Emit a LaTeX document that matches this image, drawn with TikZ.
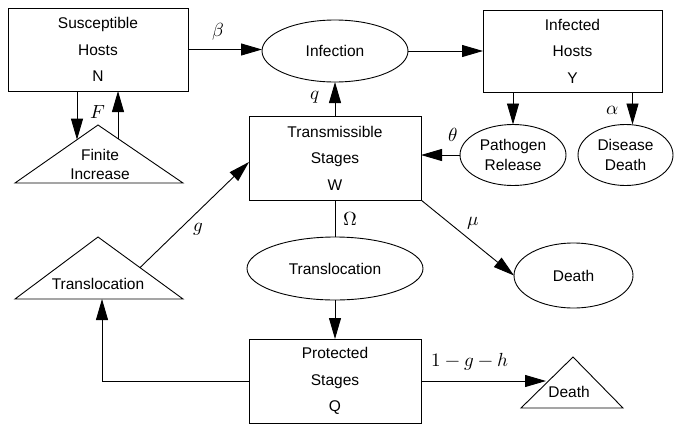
\documentclass[tikz,border=0pt]{standalone}
\usepackage{fontspec}
\usepackage{unicode-math}
\setmainfont{Liberation Sans}
\setmathfont{Latin Modern Math}
\usetikzlibrary{shapes.geometric,arrows.meta}
\begin{document}
\begin{tikzpicture}[x=1pt,y=-1pt,
  every node/.style={inner sep=0pt, outer sep=0pt},
  txt/.style={font=\fontsize{15.5}{26.5}\selectfont, align=center},
  box/.style={draw, line width=0.9pt, txt},
  oval/.style={draw, ellipse, line width=0.9pt, txt},
  tri/.style={draw, line width=0.9pt, line join=miter},
  lab/.style={font=\fontsize{19}{19}\selectfont},
  flow/.style={line width=0.9pt, -{Triangle[length=21pt,width=12pt]}},
  plain/.style={line width=0.9pt}]
\useasboundingbox (0,0) rectangle (674,426);

% boxes
\node[box, minimum width=180pt, minimum height=83pt] (S) at (98,49.5) {Susceptible\\Hosts\\N};
\node[box, minimum width=179pt, minimum height=82pt] (Y) at (572.5,51) {Infected\\Hosts\\Y};
\node[box, minimum width=172pt, minimum height=84pt] (W) at (335,158) {Transmissible\\Stages\\W};
\node[box, minimum width=172pt, minimum height=84pt] (Q) at (335,381) {Protected\\Stages\\Q};

% ellipses
\node[oval, minimum width=146pt, minimum height=62pt] (I) at (335,51) {Infection};
\node[oval, minimum width=106pt, minimum height=61pt, font=\fontsize{15.5}{20}\selectfont] (P) at (513,155) {Pathogen\\Release};
\node[oval, minimum width=95pt, minimum height=61pt, font=\fontsize{15.5}{20}\selectfont] (D) at (625.5,155) {Disease\\Death};
\node[oval, minimum width=176pt, minimum height=63pt] (T) at (335,268.5) {Translocation};
\node[oval, minimum width=119pt, minimum height=65pt] (E) at (573.5,275.5) {Death};

% triangles
\draw[tri] (15,183) -- (98,125) -- (183,183) -- cycle;
\node[txt, font=\fontsize{15.5}{19}\selectfont] (FI) at (100,164) {Finite\\Increase};
\draw[tri] (15,299) -- (98,237) -- (183,299) -- cycle;
\node[txt] (TR) at (98,284) {Translocation};
\draw[tri] (521,408) -- (573,357) -- (623,408) -- cycle;
\node[txt] (DT) at (569,392) {Death};

\coordinate (fiL) at (77,139.7);
\coordinate (fiR) at (118,138.6);
\coordinate (trR) at (140,267.6);
\coordinate (trB) at (102,299);
\coordinate (dtL) at (546,381);

% connectors
\draw[flow] (S.east) -- (S.east -| I.west);
\draw[flow] (I.east) -- (I.east -| Y.west);
\draw[flow] (W.north) -- (I.south);
\draw[flow] (P.north |- Y.south) -- (P.north);
\draw[flow] ([xshift=7pt]Y.south -| D.north) -- ([xshift=7pt]D.north);
\draw[flow] (P.west) -- (P.west -| W.east);
\draw[plain] (W.south) -- (T.north);
\draw[flow] (T.south) -- (Q.north);
\draw[flow] (W.south east) -- (E.west);
\draw[flow] (Q.east) -- (dtL);
\draw[flow] (Q.west) -| (trB);
\draw[flow] (trR) -- ([yshift=-4pt]W.west);
\draw[flow] (S.south -| fiL) -- (fiL);
\draw[flow] (fiR) -- (fiR |- S.south);

% labels
\node[lab] (lb) at (218,32) {$\beta$};
\node[lab] (lq) at (315,97) {$q$};
\node[lab] (lF) at (98,112) {$F$};
\node[lab] (lth) at (453,135) {$\theta$};
\node[lab] (la) at (613,110) {$\alpha$};
\node[lab] (lg) at (198,229) {$g$};
\node[lab] (lO) at (350,219) {$\Omega$};
\node[lab] (lm) at (473,223) {$\mu$};
\node[lab] (lh) at (470,362) {$1-g-h$};
\end{tikzpicture}
\end{document}
